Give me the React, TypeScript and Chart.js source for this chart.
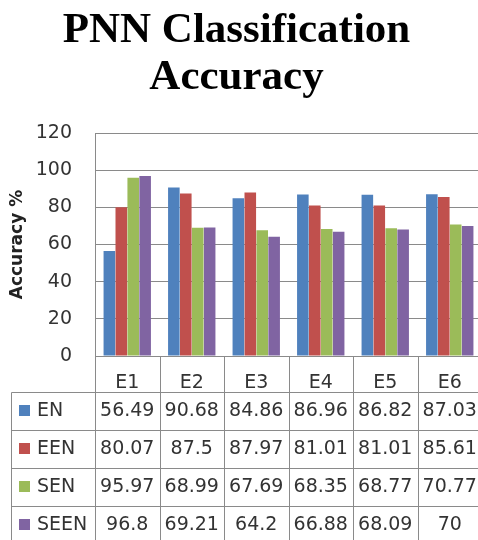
import React, { useEffect, useRef } from 'react';
import { Chart, registerables } from 'chart.js';

Chart.register(...registerables);

const categories = ['E1', 'E2', 'E3', 'E4', 'E5', 'E6'];
const seriesNames = ['EN', 'EEN', 'SEN', 'SEEN'];
const enValues = [56.49, 90.68, 84.86, 86.96, 86.82, 87.03];
const eenValues = [80.07, 87.5, 87.97, 81.01, 81.01, 85.61];
const senValues = [95.97, 68.99, 67.69, 68.35, 68.77, 70.77];
const seenValues = [96.8, 69.21, 64.2, 66.88, 68.09, 70];
const seriesColors = ['#4F81BD', '#C0504D', '#9BBB59', '#8064A2'];
const yTicks = [0, 20, 40, 60, 80, 100, 120];
const titleLines = ['PNN Classification', 'Accuracy'];
const yAxisTitle = 'Accuracy %';

const GRID = '#8a8a8a';
const TEXT = '#333333';
const FONT = 'DejaVu Sans';

const CANVAS_W = 482;
const CANVAS_H = 540;

const tablePlugin = {
  id: 'dataTable',
  afterLayout(chart: any) {
    if (chart.titleBlock) {
      chart.titleBlock.right -= 9;
    }
  },
  afterDraw(chart: any) {
    const ctx = chart.ctx;
    const xs = chart.scales.x;
    const area = chart.chartArea;
    const n = categories.length;
    const cw = xs.getPixelForValue(1) - xs.getPixelForValue(0);
    const align = (v: number) => Math.round(v) + 0.5;
    const headerTop = area.bottom;
    const headerH = 36;
    const rowH = 38;
    const tableTop = headerTop + headerH;
    const tableLeft = 11;
    const rightEdge = xs.getPixelForValue(n - 1) + cw / 2;
    const bottom = chart.height;

    ctx.save();
    ctx.strokeStyle = GRID;
    ctx.lineWidth = 1;
    ctx.beginPath();
    for (let i = 0; i <= n; i++) {
      const xp = align(xs.getPixelForValue(i) - cw / 2);
      ctx.moveTo(xp, headerTop);
      ctx.lineTo(xp, bottom);
    }
    const lx = align(tableLeft);
    ctx.moveTo(lx, align(tableTop));
    ctx.lineTo(lx, bottom);
    for (let r = 0; r <= seriesNames.length; r++) {
      const yp = align(tableTop + r * rowH);
      ctx.moveTo(lx, yp);
      ctx.lineTo(rightEdge, yp);
    }
    ctx.stroke();

    ctx.font = `19px "${FONT}"`;
    ctx.textBaseline = 'middle';
    chart.data.datasets.forEach((ds: any, r: number) => {
      const cy = tableTop + r * rowH + rowH / 2;
      ctx.fillStyle = ds.backgroundColor;
      ctx.fillRect(19, Math.round(cy - 6), 11, 11);
      ctx.fillStyle = TEXT;
      ctx.textAlign = 'left';
      ctx.fillText(ds.label, 37, cy);
      ctx.textAlign = 'center';
      ds.data.forEach((v: number, i: number) => {
        ctx.fillText(String(v), xs.getPixelForValue(i), cy);
      });
    });
    ctx.restore();
  },
};

export default function App() {
  const canvasRef = useRef<HTMLCanvasElement | null>(null);

  useEffect(() => {
    if (!canvasRef.current) return;
    const valuesList = [enValues, eenValues, senValues, seenValues];
    const chart = new Chart(canvasRef.current, {
      type: 'bar',
      data: {
        labels: categories,
        datasets: seriesNames.map((name, i) => ({
          label: name,
          data: valuesList[i],
          backgroundColor: seriesColors[i],
          borderWidth: 0,
          categoryPercentage: 0.74,
          barPercentage: 0.97,
        })),
      },
      options: {
        animation: false,
        responsive: false,
        devicePixelRatio: 1,
        layout: { padding: { left: 0, right: 0, top: 0, bottom: 0 } },
        plugins: {
          legend: { display: false },
          tooltip: { enabled: false },
          title: {
            display: true,
            text: titleLines,
            color: '#000',
            font: { family: 'Liberation Serif', size: 43, weight: 'bold', lineHeight: 47 / 43 },
            padding: { top: 7, bottom: 32 },
          },
        },
        scales: {
          x: {
            grid: { display: false },
            border: { display: false },
            ticks: {
              color: TEXT,
              font: { family: FONT, size: 19 },
              padding: 8,
              maxRotation: 0,
            },
            afterFit: (s: any) => {
              s.height = CANVAS_H - 356;
            },
          },
          y: {
            min: 0,
            max: 120,
            afterBuildTicks: (s: any) => {
              s.ticks = yTicks.map((v) => ({ value: v }));
            },
            grid: { color: GRID, lineWidth: 1, drawTicks: false },
            border: { color: GRID, width: 1 },
            ticks: {
              color: TEXT,
              font: { family: FONT, size: 19 },
              padding: 23,
            },
            title: {
              display: true,
              text: yAxisTitle,
              color: '#222',
              font: { family: FONT, size: 17, weight: 'bold' },
              padding: { top: 7, bottom: 0 },
            },
            afterFit: (s: any) => {
              s.width = 95;
            },
          },
        },
      },
      plugins: [tablePlugin],
    });
    return () => chart.destroy();
  }, []);

  return (
    <div
      style={{
        position: 'fixed',
        left: 0,
        top: 0,
        width: 478,
        height: 540,
        overflow: 'hidden',
        background: '#fff',
      }}
    >
      <canvas ref={canvasRef} width={CANVAS_W} height={CANVAS_H} style={{ display: 'block' }} />
    </div>
  );
}
